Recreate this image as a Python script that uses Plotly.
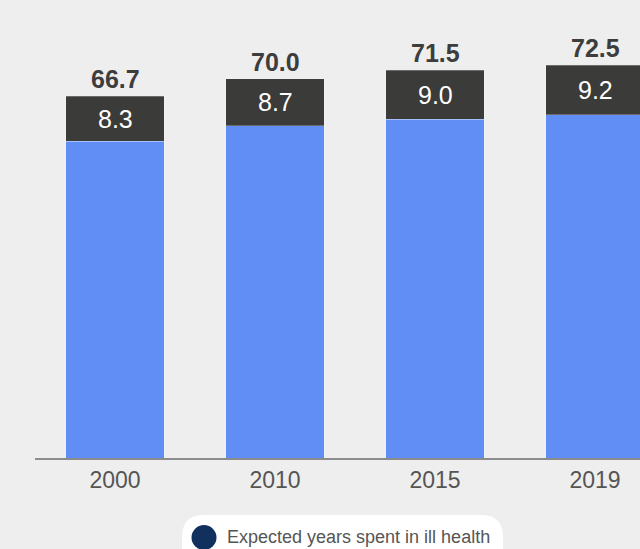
import plotly.graph_objects as go

# Life expectancy split into healthy years and years spent in ill health
years = ["2000", "2010", "2015", "2019"]
healthy_years = [58.4, 61.3, 62.5, 63.3]
ill_health_years = [8.3, 8.7, 9.0, 9.2]
total_years = [66.7, 70.0, 71.5, 72.5]
legend_label = "Expected years spent in ill health"

W, H = 640, 549
M_L, M_R, M_T, M_B = 35, 0, 0, 91
PLOT_W = W - M_L - M_R
PLOT_H = H - M_T - M_B
PX_PER_CAT = 160
PX_PER_YEAR = 5.42

FONT = "Liberation Sans, Arial, Helvetica, sans-serif"
BLUE = "#608ef5"
DARK = "#3b3b39"
BG = "#eeeeee"


def px_x(px):
    return (px - M_L) / PLOT_W


def px_y(py):
    return (H - M_B - py) / PLOT_H


fig = go.Figure()
fig.add_trace(go.Bar(
    x=years, y=healthy_years, marker_color=BLUE,
    marker_line=dict(color="rgba(255,255,255,0.25)", width=1),
    showlegend=False, hoverinfo="skip",
))
fig.add_trace(go.Bar(
    x=years, y=ill_health_years, marker_color=DARK,
    marker_line=dict(color="rgba(255,255,255,0.25)", width=1),
    showlegend=False, hoverinfo="skip",
))

annotations = []
# category positions are addressed by index on the category axis
for i, (h, ill, tot) in enumerate(zip(healthy_years, ill_health_years, total_years)):
    annotations.append(dict(
        x=i, y=tot, xref="x", yref="y", text=f"<b>{tot:.1f}</b>",
        showarrow=False, yanchor="middle", yshift=17,
        font=dict(family=FONT, size=25, color="#3d3d3d"),
    ))
    annotations.append(dict(
        x=i, y=h + ill / 2, xref="x", yref="y", text=f"{ill:.1f}",
        showarrow=False, yanchor="middle",
        font=dict(family=FONT, size=25, color="white"),
    ))

# Legend pill drawn below the axis
pill_l, pill_r, pill_t, pill_b, rad = 182, 503, 515, 575, 22
x0, x1 = px_x(pill_l), px_x(pill_r)
y_top, y_bot = px_y(pill_t), px_y(pill_b)
rx = rad / PLOT_W
ry = rad / PLOT_H
pill_path = (
    f"M {x0 + rx},{y_top} L {x1 - rx},{y_top} "
    f"Q {x1},{y_top} {x1},{y_top - ry} L {x1},{y_bot} "
    f"L {x0},{y_bot} L {x0},{y_top - ry} Q {x0},{y_top} {x0 + rx},{y_top} Z"
)
shapes = [
    dict(type="path", xref="paper", yref="paper", path=pill_path,
         fillcolor="white", line=dict(width=0), layer="above"),
    dict(type="circle", xref="paper", yref="paper",
         x0=px_x(204 - 12.5), x1=px_x(204 + 12.5),
         y0=px_y(537.5 + 12.5), y1=px_y(537.5 - 12.5),
         fillcolor="#11305e", line=dict(width=0), layer="above"),
]
annotations.append(dict(
    x=px_x(225), y=px_y(537), xref="paper", yref="paper",
    text=legend_label, showarrow=False, xanchor="left", yanchor="middle",
    font=dict(family=FONT, size=18, color="#555555"),
))

fig.update_layout(
    width=W, height=H,
    margin=dict(l=M_L, r=M_R, t=M_T, b=M_B, pad=0),
    paper_bgcolor=BG, plot_bgcolor=BG,
    barmode="stack", bargap=0.384,
    shapes=shapes, annotations=annotations,
    xaxis=dict(
        type="category", range=[-0.5, -0.5 + PLOT_W / PX_PER_CAT],
        showline=True, linecolor="#8c8c8c", linewidth=2,
        showgrid=False, zeroline=False, ticks="",
        tickfont=dict(family=FONT, size=23, color="#555555"),
        fixedrange=True,
    ),
    yaxis=dict(
        range=[0, PLOT_H / PX_PER_YEAR], visible=False,
        showgrid=False, zeroline=False, fixedrange=True,
    ),
)

fig.write_html("out.html", config={"displayModeBar": False})
